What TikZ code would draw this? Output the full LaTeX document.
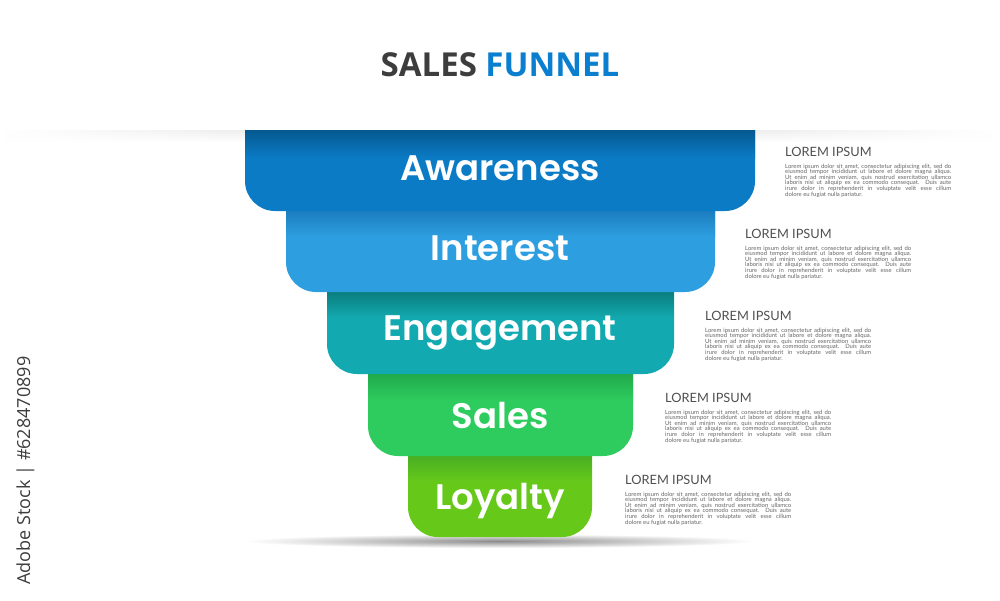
\documentclass[tikz,border=0pt]{standalone}
\usepackage{fontspec}
\setmainfont{Open Sans}
\newfontfamily\popsb{Poppins SemiBold}
\newfontfamily\osans{Open Sans}
\newfontfamily\lato{Lato}
\usetikzlibrary{fadings}
\definecolor{awa}{HTML}{0B7BC6}\definecolor{awaT}{HTML}{05598F}
\definecolor{int}{HTML}{2D9FE0}\definecolor{intT}{HTML}{1A7CBE}
\definecolor{eng}{HTML}{12AAB0}\definecolor{engT}{HTML}{0A7C7C}
\definecolor{sal}{HTML}{2ECC5E}\definecolor{salT}{HTML}{20A84A}
\definecolor{loy}{HTML}{66C91A}\definecolor{loyT}{HTML}{48AE24}
\definecolor{ttlgray}{HTML}{3D3D3D}\definecolor{ttlblue}{HTML}{0A7FCF}
\definecolor{headgray}{HTML}{505050}\definecolor{bodygray}{HTML}{666666}
\tikzfading[name=midfade, left color=transparent!100, right color=transparent!100, middle color=transparent!0]
\tikzset{
  label/.style={text=white, font=\popsb\fontsize{35.5}{40}\selectfont, anchor=base},
  head/.style={text=headgray, font=\lato\fontsize{12.8}{13}\selectfont, anchor=base west, inner sep=0pt},
  body/.style={text=bodygray, font=\lato\fontsize{5.9}{5.6}\selectfont, anchor=north west, inner sep=0pt, align=left},
}
\newcommand{\lorembody}{%
\makebox[166pt][s]{Lorem ipsum dolor sit amet, consectetur adipiscing elit, sed do}\\
\makebox[166pt][s]{eiusmod tempor incididunt ut labore et dolore magna aliqua.}\\
\makebox[166pt][s]{Ut enim ad minim veniam, quis nostrud exercitation ullamco}\\
\makebox[166pt][s]{laboris nisi ut aliquip ex ea commodo consequat. Duis aute}\\
\makebox[166pt][s]{irure dolor in reprehenderit in voluptate velit esse cillum}\\
dolore eu fugiat nulla pariatur.}
% bar: #1 left, #2 right, #3 visible top, #4 bottom, #5 main, #6 top colour
\newcommand{\funbar}[6]{%
  \fill[#5] (#1,#3-12) {[rounded corners=30pt] -- (#1,#4) -- (#2,#4)} -- (#2,#3-12) -- cycle;
  \begin{scope}
    \clip (#1,#3-12) {[rounded corners=30pt] -- (#1,#4) -- (#2,#4)} -- (#2,#3-12) -- cycle;
    \shade[top color=#6, bottom color=#5] (#1,#3-1) rectangle (#2,#3+26);
  \end{scope}}
\begin{document}
\begin{tikzpicture}[x=1pt,y=-1pt]
\useasboundingbox[fill=white] (0,0) rectangle (1000,600);
% top paper edge shadow
\fill[black!30, path fading=midfade] (5,129) rectangle (995,130.2);
\shade[top color=black!14, bottom color=white, path fading=midfade] (5,130) rectangle (995,142);
\fill[white] (0,0) rectangle (1000,129.5);
% bottom shadow
\shade[inner color=black!45, outer color=white] (500,541) ellipse (255 and 7);
% bars, bottom first
\funbar{408}{592}{456}{537}{loy}{loyT}
\funbar{368}{633}{374}{456}{sal}{salT}
\funbar{327}{674}{292}{374}{eng}{engT}
\funbar{286}{715}{211}{292}{int}{intT}
\fill[awa] (245,130) {[rounded corners=30pt] -- (245,211) -- (755,211)} -- (755,130) -- cycle;
\begin{scope}
  \clip (245,130) {[rounded corners=30pt] -- (245,211) -- (755,211)} -- (755,130) -- cycle;
  \shade[top color=awaT, bottom color=awa] (245,130) rectangle (755,158);
\end{scope}
% labels
\node[label] (lawa) at (500,180) {Awareness};
\node[label] (lint) at (500,260) {Interest};
\node[label] (leng) at (500,340) {Engagement};
\node[label] (lsal) at (500,428) {Sales};
\node[label] (lloy) at (500,509) {Loyalty};
% title
\node[anchor=base, font=\osans\bfseries\fontsize{33}{36}\selectfont] (title) at (500,76)
  {\textcolor{ttlgray}{SALES} \textcolor{ttlblue}{FUNNEL}};
% text blocks
\foreach \i/\nm in {0/a,1/b,2/c,3/d,4/e}{
  \node[head] (h\nm) at (785-40*\i,156+82*\i) {LOREM IPSUM};
  \node[body] (b\nm) at (785-40*\i,163.5+82*\i) {\lorembody};
}
% vertical mark
\node[rotate=90, anchor=base west, text=ttlgray, font=\osans\fontsize{18}{20}\selectfont] (mark) at (30,588) {Adobe Stock | \#628470899};
\end{tikzpicture}
\end{document}
